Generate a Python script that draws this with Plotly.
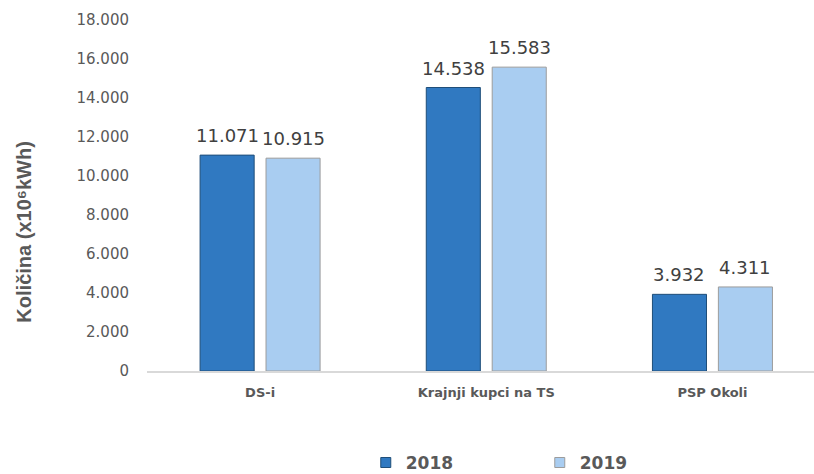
import plotly.graph_objects as go

categories = ["DS-i", "Krajnji kupci na TS", "PSP Okoli"]
values_2018 = [11071, 14538, 3932]
values_2019 = [10915, 15583, 4311]
y_ticks = [0, 2000, 4000, 6000, 8000, 10000, 12000, 14000, 16000, 18000]

FONT = "DejaVu Sans"
C18, L18 = "#3079C1", "#1F4E79"
C19, L19 = "#A9CDF1", "#9C9C9C"
fig = go.Figure()
fig.add_trace(go.Bar(x=categories, y=values_2018, name="2018", showlegend=False,
                     marker=dict(color=C18, line=dict(color=L18, width=1))))
fig.add_trace(go.Bar(x=categories, y=values_2019, name="2019", showlegend=False,
                     marker=dict(color=C19, line=dict(color=L19, width=1))))
# legend entries with small square markers
for name, c, lc in (("2018", C18, L18), ("2019", C19, L19)):
    fig.add_trace(go.Scatter(x=[None], y=[None], mode="markers", name=name,
                             marker=dict(symbol="square", size=10, color=c,
                                         line=dict(color=lc, width=1))))

for vals, shift in ((values_2018, -33), (values_2019, 33)):
    for c, v in zip(categories, vals):
        fig.add_annotation(x=c, y=v, text=f"{v:,}".replace(",", "."), showarrow=False,
                           xshift=shift, yshift=7, yanchor="bottom",
                           font=dict(family=FONT, size=18, color="#404040"))

fig.add_annotation(xref="paper", yref="paper", x=-0.184, y=0.395, showarrow=False,
                   xanchor="center", yanchor="middle",
                   text="Količina (x10⁶kWh)", textangle=-90,
                   font=dict(family="Liberation Sans", size=20, color="#595959", weight="bold"))

fig.update_layout(
    width=814, height=474,
    margin=dict(l=147, r=0, t=20, b=103, autoexpand=False),
    paper_bgcolor="white", plot_bgcolor="white",
    separators=",.",
    barmode="group", bargap=0.417, bargroupgap=0.18,
    font=dict(family=FONT, color="#595959"),
    showlegend=True,
    legend=dict(orientation="h", x=0.328, xanchor="left", y=-0.262, yanchor="middle",
                font=dict(family=FONT, size=17, color="#595959", weight="bold"),
                entrywidth=129, entrywidthmode="pixels", itemwidth=30),
    xaxis=dict(range=[-0.5, 2.449], showline=True, linecolor="#D9D9D9", linewidth=2,
               ticks="", automargin=False, ticklabelstandoff=8,
               tickfont=dict(family=FONT, size=13, color="#595959", weight="bold")),
    yaxis=dict(range=[0, 18000], tickvals=y_ticks, tickformat=",d", showgrid=False,
               zeroline=False, showline=False, ticks="", ticklabelstandoff=17,
               automargin=False,
               tickfont=dict(family=FONT, size=15, color="#595959")),
)
fig.write_html("out.html", config={"displayModeBar": False},
               post_script="document.body.style.margin='0';")
